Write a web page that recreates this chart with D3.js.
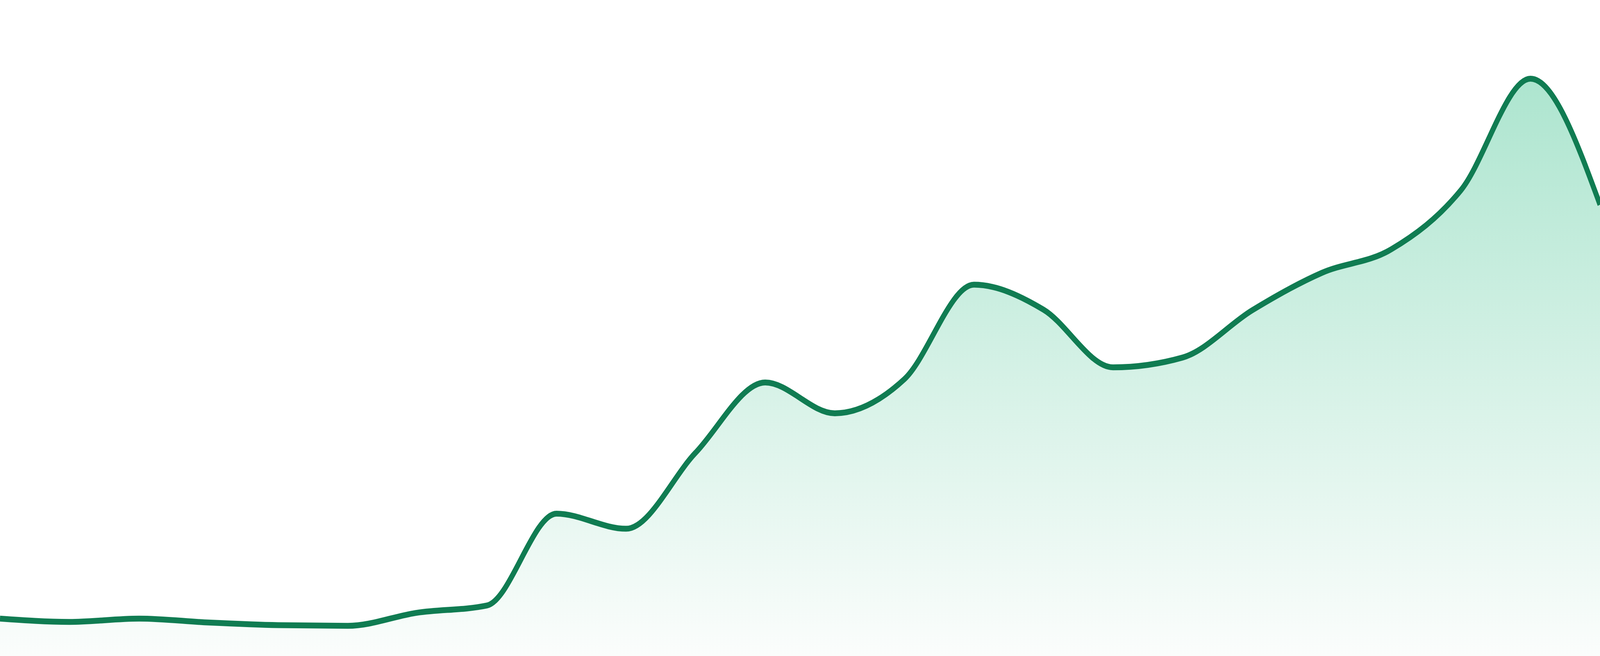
<!DOCTYPE html>
<html>
<head>
<meta charset="utf-8">
<title>Trend area</title>
<script src="https://cdn.jsdelivr.net/npm/d3@7"></script>
<style>
  html, body { margin: 0; padding: 0; background: #ffffff; overflow: hidden; width: 100%; height: 100%; }
  #chart { width: 100vw; height: 100vh; }
  #chart svg { display: block; width: 100%; height: 100%; }
</style>
</head>
<body>
<div id="chart"></div>
<script>
// Constants
const WIDTH = 4800;
const HEIGHT = 1680;
const LINE_COLOR = "#107c52";
const FILL_TOP = "#ade5cf";
const FILL_BOTTOM = "#fbfdfc";

//==========================================
// Data
//==========================================

// one sample per step, evenly spaced along the x axis
const steps = d3.range(24);
const values = [
  5.7, 5.2, 5.7, 5.1, 4.7, 4.6, 6.6, 7.7,
  21.7, 19.4, 31.0, 41.7, 37.0, 42.2, 56.6, 52.8,
  44.0, 45.5, 52.7, 58.4, 62.0, 71.0, 88.0, 68.8
];
const yDomain = [0, 100];

//==========================================
// Rendering
//==========================================

function renderChart() {
  const data = steps.map((s, i) => ({ step: s, value: values[i] }));

  const x = d3.scaleLinear()
    .domain(d3.extent(steps))
    .range([0, WIDTH]);

  const y = d3.scaleLinear()
    .domain(yDomain)
    .range([HEIGHT, 0]);

  // viewBox keeps the whole chart inside the window whatever its css size
  const svg = d3.select("#chart").append("svg")
    .attr("viewBox", `0 0 ${WIDTH} ${HEIGHT}`)
    .attr("preserveAspectRatio", "none");

  // Vertical fade for the area (spans the area's own box)
  const grad = svg.append("defs").append("linearGradient")
    .attr("id", "area-fill")
    .attr("x1", 0).attr("y1", 0)
    .attr("x2", 0).attr("y2", 1);
  grad.append("stop").attr("offset", "0%").attr("stop-color", FILL_TOP);
  grad.append("stop").attr("offset", "100%").attr("stop-color", FILL_BOTTOM);

  const area = d3.area()
    .curve(d3.curveMonotoneX)
    .x(d => x(d.step))
    .y0(HEIGHT)
    .y1(d => y(d.value));

  const line = d3.line()
    .curve(d3.curveMonotoneX)
    .x(d => x(d.step))
    .y(d => y(d.value));

  svg.append("path")
    .datum(data)
    .attr("d", area)
    .style("fill", "url(#area-fill)");

  svg.append("path")
    .datum(data)
    .attr("d", line)
    .style("fill", "none")
    .style("stroke", LINE_COLOR)
    .style("stroke-width", 15)
    .style("stroke-linejoin", "round");
}

renderChart();
</script>
</body>
</html>
